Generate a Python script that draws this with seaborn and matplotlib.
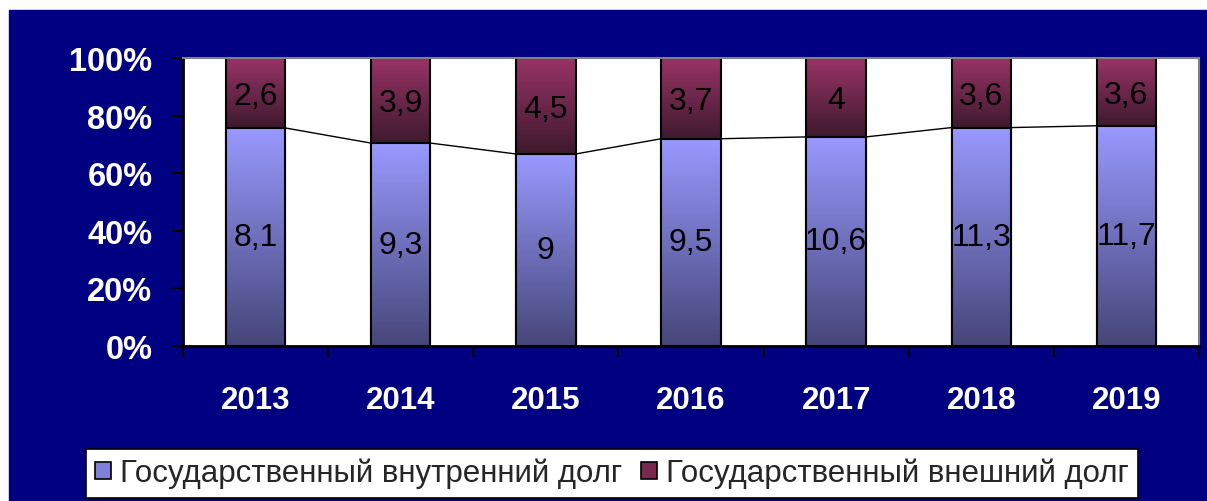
# Структура государственного долга (внутренний / внешний), 2013-2019
import numpy as np
import pandas as pd
import seaborn as sns
import matplotlib.pyplot as plt
from matplotlib.patches import Patch, Rectangle
from matplotlib.colors import to_rgb

years = ['2013', '2014', '2015', '2016', '2017', '2018', '2019']
domestic = [8.1, 9.3, 9.0, 9.5, 10.6, 11.3, 11.7]
external = [2.6, 3.9, 4.5, 3.7, 4.0, 3.6, 3.6]
series_names = ['Государственный внутренний долг', 'Государственный внешний долг']

NAVY = '#000080'
DOM_TOP, DOM_BOT = '#9999FF', '#46467A'
EXT_TOP, EXT_BOT = '#993366', '#3E1A2E'

sns.set_theme(style='white')
plt.rcParams['font.family'] = ['Liberation Sans', 'DejaVu Sans']

df = pd.DataFrame({'year': years, 'dom': domestic, 'ext': external})
df['total'] = df['dom'] + df['ext']
df['dom_pct'] = df['dom'] / df['total'] * 100
df['full'] = 100.0

fig = plt.figure(figsize=(12.07, 5.02), dpi=100, facecolor='white')
fig.patches.append(Rectangle((9 / 1207, 0), 1, (502 - 11) / 502,
                             transform=fig.transFigure, color=NAVY, zorder=-5))
ax = fig.add_axes([183 / 1207, (502 - 347) / 502, (1199 - 183) / 1207, (347 - 59) / 502])
ax.set_facecolor('white')

W = 0.41
sns.barplot(data=df, x='year', y='full', color=EXT_TOP, width=W,
            edgecolor='black', linewidth=1.5, ax=ax)
n_ext = len(ax.patches)
sns.barplot(data=df, x='year', y='dom_pct', color=DOM_TOP, width=W,
            edgecolor='black', linewidth=1.5, ax=ax)


def gradient(top, bot, n=100):
    t = np.linspace(0, 1, n)[:, None]
    a, b = np.array(to_rgb(top)), np.array(to_rgb(bot))
    return (a * (1 - t) + b * t)[:, None, :]


for i, p in enumerate(ax.patches):
    x0, w = p.get_x(), p.get_width()
    if i < n_ext:
        lo, hi = df['dom_pct'].iloc[i], 100
        img = gradient(EXT_TOP, EXT_BOT)
        z = 1
    else:
        lo, hi = 0, p.get_height()
        img = gradient(DOM_TOP, DOM_BOT)
        z = 2
    im = ax.imshow(img, extent=(x0, x0 + w, lo, hi), origin='upper',
                   aspect='auto', zorder=z, interpolation='bilinear')
    im.set_clip_path(p)
    p.set_facecolor('none')
    p.set_zorder(z + 0.1)

# серии линий между столбцами
for i in range(len(years) - 1):
    ax.plot([i + W / 2, i + 1 - W / 2],
            [df['dom_pct'].iloc[i], df['dom_pct'].iloc[i + 1]],
            color='black', lw=1, zorder=3)

for i in range(len(years)):
    dp = df['dom_pct'].iloc[i]
    ax.text(i, dp / 2, f"{domestic[i]:g}".replace('.', ','), ha='center', va='center',
            fontsize=23, color='black', zorder=4)
    ax.text(i, (dp + 100) / 2 - 1, f"{external[i]:g}".replace('.', ','), ha='center',
            va='center', fontsize=23, color='black', zorder=4)

ax.set_xlim(-0.5, len(years) - 0.5)
ax.set_ylim(0, 100)
ax.set_yticks(range(0, 101, 20))
ax.set_yticklabels([f'{v}%' for v in range(0, 101, 20)])
ax.set_xlabel('')
ax.set_ylabel('')
ax.tick_params(axis='y', left=True, length=8, width=1.5, color='black', pad=14,
               labelsize=23.5, labelcolor='white')
ax.set_xticks(range(len(years)), years)
ax.set_xticks(np.arange(-0.5, len(years)), minor=True)
ax.tick_params(axis='x', which='major', bottom=False, pad=22, labelsize=22.5, labelcolor='white')
ax.tick_params(axis='x', which='minor', bottom=True, length=8, width=1.5, color='black')
for lab in ax.get_xticklabels() + ax.get_yticklabels():
    lab.set_fontweight('bold')

for s in ['left', 'bottom']:
    ax.spines[s].set_color('black')
    ax.spines[s].set_linewidth(2)
for s in ['top', 'right']:
    ax.spines[s].set_color('#808080')
    ax.spines[s].set_linewidth(1.5)

handles = [Patch(facecolor='#8080D8', edgecolor='black', lw=1.2),
           Patch(facecolor='#7A2850', edgecolor='black', lw=1.2)]
leg = fig.legend(handles, series_names, loc='lower center', ncol=2,
                 bbox_to_anchor=(0.507, 0.0), fontsize=22.5, frameon=True,
                 fancybox=False, edgecolor='black', facecolor='white', framealpha=1,
                 handlelength=0.5, handleheight=0.5, handletextpad=0.3,
                 columnspacing=0.6, borderpad=0.3, borderaxespad=0.1)
leg.get_frame().set_linewidth(1.2)

fig.savefig('out.png', dpi=100, facecolor=fig.get_facecolor())
